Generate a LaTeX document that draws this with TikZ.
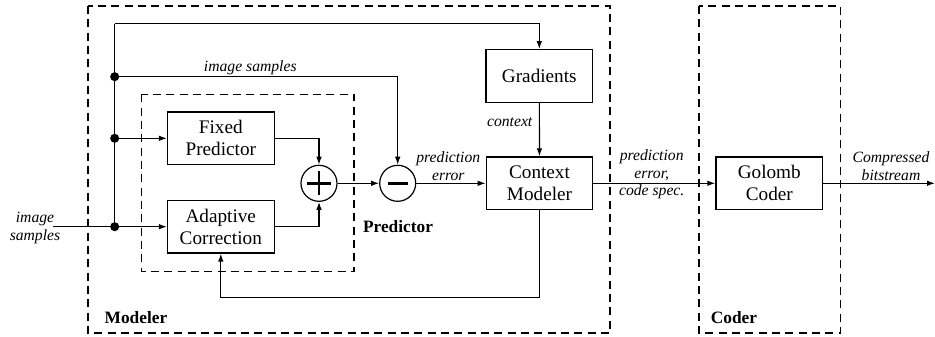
\documentclass[tikz,border=0pt]{standalone}
\usepackage{fontspec}
\setmainfont{Liberation Serif}
\usetikzlibrary{arrows.meta}
\begin{document}
\begin{tikzpicture}[x=0.75pt,y=-0.75pt,
  line width=0.9pt,
  blk/.style={draw,rectangle,minimum width=80pt,minimum height=39.5pt,inner sep=0pt,align=center,
    font=\fontsize{14.4}{16.5}\selectfont},
  sumnode/.style={draw,circle,minimum size=27pt,inner sep=0pt},
  jdot/.style={circle,fill,inner sep=0pt,minimum size=6.8pt},
  arr/.style={-{Latex[length=6pt,width=4.2pt]}},
  lbl/.style={inner sep=0pt,align=center,font=\fontsize{11.75}{13}\selectfont\itshape},
  bold/.style={inner sep=0pt,font=\fontsize{13}{15}\selectfont\bfseries},
  dashbox/.style={dash pattern=on 6pt off 4pt,line width=0.9pt}]
\useasboundingbox (0,0) rectangle (935,336);

% dashed groups
\draw[dashbox] (88,6) rectangle (610,333);
\draw[dashbox] (699,6) rectangle (840.7,333);
\draw[dashbox] (141.7,94.3) rectangle (354,271.7);

% blocks
\node[blk] (fixed) at (220.8,138.3) {Fixed\\Predictor};
\node[blk] (adapt) at (220.8,226.7) {Adaptive\\Correction};
\node[blk] (grad) at (539.3,76) {Gradients};
\node[blk] (ctx) at (539.5,183.3) {Context\\Modeler};
\node[blk] (golomb) at (769.3,183.3) {Golomb\\Coder};
\node[sumnode] (plus) at (319,183.3) {};
\node[sumnode] (minus) at (397.7,183.3) {};
\draw[line width=2.2pt] ([xshift=-9pt]plus.center) -- ([xshift=9pt]plus.center);
\draw[line width=2.2pt] ([yshift=-9pt]plus.center) -- ([yshift=9pt]plus.center);
\draw[line width=2.2pt] ([xshift=-7.5pt]minus.center) -- ([xshift=7.5pt]minus.center);

% junctions
\coordinate (top) at (114.7,23.7);
\node[jdot] (j1) at (114.7,76.7) {};
\node[jdot] (j2) at (114.7,138.3) {};
\node[jdot] (j3) at (114.7,226.7) {};
\coordinate (in) at (53,226.7);
\coordinate (out) at (935,183.3);
\coordinate (fb) at (220.8,297.3);

% connectors
\draw (top) -- (j3.center);
\draw[arr] (top) -| (grad.north);
\draw[arr] (j1.center) -| (minus.north);
\draw[arr] (j2.center) -- (fixed.west);
\draw (in) -- (j3.center);
\draw[arr] (j3.center) -- (adapt.west);
\draw[arr] (fixed.east) -| (plus.north);
\draw[arr] (adapt.east) -| (plus.south);
\draw[arr] (plus) -- (minus);
\draw[arr] (minus) -- (ctx);
\draw[arr] (grad) -- (ctx);
\draw[arr] (ctx) -- (golomb);
\draw[arr] (golomb) -- (out);
\draw[arr] (ctx.south) |- (fb) -- (adapt.south);

% labels
\node[lbl] (lis) at (250.3,68) {image samples};
\node[lbl] (lctx) at (509.7,121.7) {context};
\node[lbl] (lpe) at (448.3,166) {prediction\\error};
\node[lbl] (lpec) at (651.7,174.5) {prediction\\error,\\code spec.};
\node[lbl] (lcb) at (891,166) {Compressed\\bitstream};
\node[lbl] (lin) at (35,228) {image\\samples};
\node[bold] (lpred) at (398,226.7) {Predictor};
\node[bold] (lmod) at (136,318) {Modeler};
\node[bold] (lcod) at (734,318) {Coder};
\end{tikzpicture}
\end{document}
